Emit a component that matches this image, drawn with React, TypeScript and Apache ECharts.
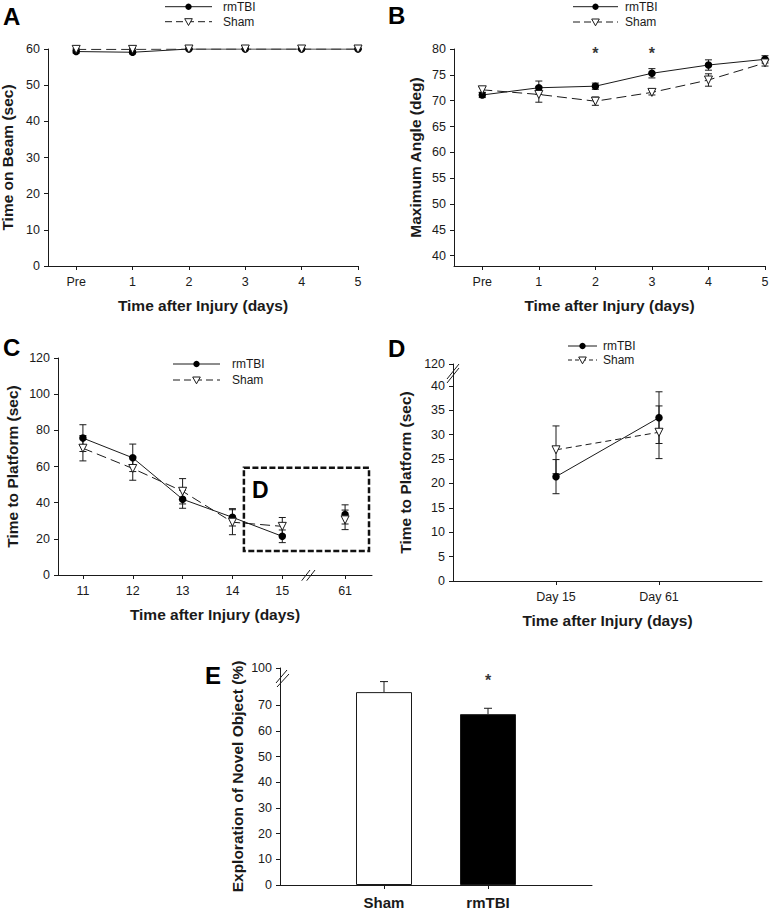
import React, { useEffect, useRef } from 'react';
import * as echarts from 'echarts';

// ---------- data ----------
const daysAB = ['Pre', '1', '2', '3', '4', '5'];
const beamRm = [59.3, 59.1, 60, 60, 60, 60];
const beamRmErr = [0.4, 0.4, 0.1, 0.1, 0.1, 0.1];
const beamSham = [59.9, 59.9, 60, 60, 60, 60];
const beamShamErr = [0.2, 0.2, 0.1, 0.1, 0.1, 0.1];
const yTicksA = [0, 10, 20, 30, 40, 50, 60];

const angleRm = [71.1, 72.5, 72.8, 75.3, 76.9, 78.0];
const angleRmErr = [0.5, 1.3, 0.6, 0.9, 1.0, 0.7];
const angleSham = [72.1, 71.2, 69.9, 71.6, 74.0, 77.3];
const angleShamErr = [0.5, 1.5, 0.8, 0.5, 1.2, 0.6];
const angleSigDays = ['2', '3'];
const yTicksB = [40, 45, 50, 55, 60, 65, 70, 75, 80];

const daysC = ['11', '12', '13', '14', '15', '61'];
const platRm = [75.7, 64.8, 41.9, 31.9, 21.4, 33.5];
const platRmErr = [7.4, 7.6, 5.0, 4.8, 3.5, 5.3];
const platSham = [70.1, 58.9, 46.3, 29.2, 26.9, 30.5];
const platShamErr = [7.0, 6.5, 7.0, 6.9, 4.9, 5.4];
const yTicksC = [0, 20, 40, 60, 80, 100, 120];

const daysD = ['Day 15', 'Day 61'];
const platRmD = [21.4, 33.5];
const platRmErrD = [3.5, 5.3];
const platShamD = [26.9, 30.5];
const platShamErrD = [4.9, 5.4];
const yTickLabelsD = ['0', '5', '10', '15', '20', '25', '30', '35', '40', '120'];

const groupsE = ['Sham', 'rmTBI'];
const novelE = [75.2, 66.6];
const novelErrE = [4.1, 2.3];
const novelSigE = ['rmTBI'];
const yTickLabelsE = ['0', '10', '20', '30', '40', '50', '60', '70', '100'];

// ---------- layout (positions on axes, not data) ----------
const posAB = [0, 1, 2, 3, 4, 5];
const posC = [0, 1, 2, 3, 4, 5.26];
const posD = [1, 2];
const posE = [1, 2];
const yPosD = [0, 5, 10, 15, 20, 25, 30, 35, 40, 44.5];
const yPosE = [0, 10, 20, 30, 40, 50, 60, 70, 84.6];

const FONT = '"Liberation Sans", Arial, Helvetica, sans-serif';
const INK = '#1a1a1a';

const pick = (ticks: number[], labels: string[]) => (v: number) => {
  const i = ticks.findIndex((t) => Math.abs(t - v) < 1e-6);
  return i >= 0 ? labels[i] : '';
};

function xAxis(gi: number, min: number, max: number, ticks: number[], labels: string[], name: string, bold = false, fs = 12.5, margin = 9) {
  return {
    type: 'value', gridIndex: gi, min, max,
    splitLine: { show: false },
    axisLine: { show: true, onZero: false, lineStyle: { color: INK, width: 1 } },
    axisTick: { show: true, customValues: ticks, length: 4, inside: false, lineStyle: { color: INK, width: 1 } },
    axisLabel: { customValues: ticks, formatter: pick(ticks, labels), margin, fontSize: fs, fontWeight: bold ? 'bold' : 'normal', color: INK, fontFamily: FONT },
    name, nameLocation: 'middle', nameGap: 31,
    nameTextStyle: { fontSize: 15.5, fontWeight: 'bold', color: INK, fontFamily: FONT },
  };
}

function yAxis(gi: number, min: number, max: number, ticks: number[], labels: string[], name: string, gap: number) {
  return {
    type: 'value', gridIndex: gi, min, max,
    splitLine: { show: false },
    axisLine: { show: true, onZero: false, lineStyle: { color: INK, width: 1 } },
    axisTick: { show: true, customValues: ticks, length: 4, inside: false, lineStyle: { color: INK, width: 1 } },
    axisLabel: { customValues: ticks, formatter: pick(ticks, labels), margin: 8, fontSize: 12.5, color: INK, fontFamily: FONT },
    name, nameLocation: 'middle', nameGap: gap,
    nameTextStyle: { fontSize: 15.5, fontWeight: 'bold', color: INK, fontFamily: FONT },
  };
}

function errSeries(gi: number, xs: number[], ys: number[], es: number[], upOnly = false, cap = 7) {
  return {
    type: 'custom', xAxisIndex: gi, yAxisIndex: gi, z: 1, silent: true,
    data: xs.map((x, i) => [x, ys[i], es[i]]),
    encode: { x: 0, y: 1 },
    renderItem: (params: any, api: any) => {
      const x = api.value(0), y = api.value(1), e = api.value(2);
      const t = api.coord([x, y + e]);
      const b = api.coord([x, upOnly ? y : y - e]);
      const h = cap / 2;
      const st = { stroke: INK, lineWidth: 1 };
      const children: any[] = [
        { type: 'line', shape: { x1: t[0], y1: t[1], x2: b[0], y2: b[1] }, style: st },
        { type: 'line', shape: { x1: t[0] - h, y1: t[1], x2: t[0] + h, y2: t[1] }, style: st },
      ];
      if (!upOnly) children.push({ type: 'line', shape: { x1: b[0] - h, y1: b[1], x2: b[0] + h, y2: b[1] }, style: st });
      return { type: 'group', children };
    },
  };
}

function lineSeries(name: string, gi: number, xs: number[], ys: number[], sham: boolean, dash: number[] = [10, 5], extra: any = {}) {
  return {
    type: 'line', name, xAxisIndex: gi, yAxisIndex: gi, z: sham ? 4 : 3, silent: true,
    data: xs.map((x, i) => [x, ys[i]]),
    symbol: sham ? 'triangle' : 'circle', symbolRotate: sham ? 180 : 0, symbolSize: sham ? 8 : 7.5,
    showSymbol: true,
    itemStyle: sham ? { color: '#fff', borderColor: INK, borderWidth: 1 } : { color: '#000', borderWidth: 0 },
    lineStyle: { color: INK, width: 1, type: sham ? dash : 'solid' },
    emphasis: { disabled: true },
    ...extra,
  };
}

function legendEls(x0: number, x1: number, y1: number, y2: number, tx: number, dash: number[]) {
  const cx = (x0 + x1) / 2;
  const ts = { fill: INK, fontSize: 12, fontFamily: FONT, verticalAlign: 'middle', align: 'left' };
  return [
    { type: 'line', shape: { x1: x0, y1, x2: x1, y2: y1 }, style: { stroke: INK, lineWidth: 1 } },
    { type: 'circle', shape: { cx, cy: y1, r: 3.2 }, style: { fill: '#000' } },
    { type: 'text', x: tx, y: y1, style: { ...ts, text: 'rmTBI' } },
    { type: 'line', shape: { x1: x0, y1: y2, x2: x1, y2 }, style: { stroke: INK, lineWidth: 1, lineDash: dash } },
    { type: 'polygon', shape: { points: [[cx - 3.8, y2 - 3], [cx + 3.8, y2 - 3], [cx, y2 + 3.8]] }, style: { fill: '#fff', stroke: INK, lineWidth: 1 } },
    { type: 'text', x: tx, y: y2, style: { ...ts, text: 'Sham' } },
  ];
}

function letter(t: string, x: number, y: number, fs = 24) {
  return { type: 'text', x, y, style: { text: t, fill: '#000', fontSize: fs, fontWeight: 'bold', fontFamily: FONT, verticalAlign: 'middle', align: 'left' } };
}

function breakEls(rect: number[], l1: number[], l2: number[]) {
  return [
    { type: 'rect', shape: { x: rect[0], y: rect[1], width: rect[2], height: rect[3] }, style: { fill: '#fff' } },
    { type: 'line', shape: { x1: l1[0], y1: l1[1], x2: l1[2], y2: l1[3] }, style: { stroke: INK, lineWidth: 1 } },
    { type: 'line', shape: { x1: l2[0], y1: l2[1], x2: l2[2], y2: l2[3] }, style: { stroke: INK, lineWidth: 1 } },
  ];
}

function buildOption() {
  const starLabel = { show: true, formatter: '*', position: 'inside', fontSize: 16, fontWeight: 'bold', color: '#000', fontFamily: FONT };
  const grid = (left: number, top: number, width: number, height: number) => ({ left, top, width, height, containLabel: false, outerBoundsMode: 'none' });
  return {
    animation: false,
    backgroundColor: '#fff',
    grid: [grid(48, 49, 310, 217), grid(454, 49, 311, 217), grid(58, 358, 314, 217), grid(453, 364, 309, 217), grid(280, 668, 312, 217)],
    xAxis: [
      xAxis(0, -0.5, 5, posAB, daysAB, 'Time after Injury (days)'),
      xAxis(1, -0.5, 5, posAB, daysAB, 'Time after Injury (days)'),
      xAxis(2, -0.5, 5.8, posC, daysC, 'Time after Injury (days)'),
      xAxis(3, 0, 3, posD, daysD, 'Time after Injury (days)', false, 12.5, 9),
      { ...xAxis(4, 0, 3, posE, groupsE, '', true, 15, 10) },
    ],
    yAxis: [
      yAxis(0, 0, 60, yTicksA, yTicksA.map(String), 'Time on Beam (sec)', 33),
      yAxis(1, 38, 80, yTicksB, yTicksB.map(String), 'Maximum Angle (deg)', 31),
      yAxis(2, 0, 120, yTicksC, yTicksC.map(String), 'Time to Platform (sec)', 38),
      yAxis(3, 0, 44.5, yPosD, yTickLabelsD, 'Time to Platform (sec)', 40),
      yAxis(4, 0, 84.6, yPosE, yTickLabelsE, 'Exploration of Novel Object (%)', 35),
    ],
    series: [
      // A
      errSeries(0, posAB, beamRm, beamRmErr),
      errSeries(0, posAB, beamSham, beamShamErr),
      lineSeries('rmTBI', 0, posAB, beamRm, false),
      lineSeries('Sham', 0, posAB, beamSham, true),
      // B
      errSeries(1, posAB, angleRm, angleRmErr),
      errSeries(1, posAB, angleSham, angleShamErr),
      lineSeries('rmTBI', 1, posAB, angleRm, false),
      lineSeries('Sham', 1, posAB, angleSham, true),
      {
        type: 'scatter', xAxisIndex: 1, yAxisIndex: 1, silent: true, z: 5,
        data: angleSigDays.map((d) => [posAB[daysAB.indexOf(d)], 79.2]),
        symbolSize: 1, itemStyle: { color: 'rgba(0,0,0,0)' }, label: starLabel,
      },
      // C
      errSeries(2, posC, platRm, platRmErr),
      errSeries(2, posC, platSham, platShamErr),
      lineSeries('rmTBI', 2, posC.slice(0, 5), platRm.slice(0, 5), false),
      lineSeries('Sham', 2, posC.slice(0, 5), platSham.slice(0, 5), true, [10, 5], {
        markArea: {
          silent: true,
          itemStyle: { color: 'rgba(0,0,0,0)', borderColor: '#111', borderWidth: 2.5, borderType: [6, 2.5] },
          label: { show: false },
          data: [[{ coord: [3.23, 59.3] }, { coord: [5.74, 13.3] }]],
        },
      }),
      lineSeries('rmTBI', 2, posC.slice(5), platRm.slice(5), false),
      lineSeries('Sham', 2, posC.slice(5), platSham.slice(5), true),
      // D
      errSeries(3, posD, platRmD, platRmErrD),
      errSeries(3, posD, platShamD, platShamErrD),
      lineSeries('rmTBI', 3, posD, platRmD, false),
      lineSeries('Sham', 3, posD, platShamD, true, [6, 4]),
      // E
      {
        type: 'bar', xAxisIndex: 4, yAxisIndex: 4, barWidth: 56, silent: true, z: 2,
        data: posE.map((x, i) => ({ value: [x, novelE[i]], itemStyle: { color: i === 0 ? '#fff' : '#000', borderColor: INK, borderWidth: 1 } })),
      },
      errSeries(4, posE, novelE, novelErrE, true, 8),
      {
        type: 'scatter', xAxisIndex: 4, yAxisIndex: 4, silent: true, z: 5,
        data: novelSigE.map((g) => [posE[groupsE.indexOf(g)], 79.6]),
        symbolSize: 1, itemStyle: { color: 'rgba(0,0,0,0)' }, label: starLabel,
      },
    ],
    graphic: [
      {
        type: 'group', z: 100, silent: true,
        children: [
          letter('A', 3, 16.5),
          letter('B', 388, 15),
          letter('C', 3, 347),
          letter('D', 388, 348),
          letter('E', 205, 675),
          letter('D', 252, 490, 23),
          ...legendEls(165, 212, 6.7, 21.7, 223, [7, 4]),
          ...legendEls(573, 618, 6.7, 22, 625, [7, 4]),
          ...legendEls(173, 220, 364, 380, 232, [7, 4]),
          ...legendEls(568, 597, 346, 360, 603, [4, 3]),
          ...breakEls([306, 572, 5, 6], [301.7, 580.7, 310, 570], [306.7, 580.7, 315, 570]),
          ...breakEls([450, 371.5, 6, 4], [447, 379, 459, 364], [447, 383, 459, 368]),
          ...breakEls([277, 678.3, 6, 5.4], [276, 683, 287, 670], [277, 687, 289, 674]),
        ],
      },
    ],
  };
}

export default function App() {
  const ref = useRef<HTMLDivElement>(null);
  useEffect(() => {
    document.body.style.margin = '0';
    const chart = echarts.init(ref.current!, null, { renderer: 'svg' });
    chart.setOption(buildOption() as any);
    return () => chart.dispose();
  }, []);
  return <div ref={ref} style={{ width: 771, height: 913, background: '#fff' }} />;
}
